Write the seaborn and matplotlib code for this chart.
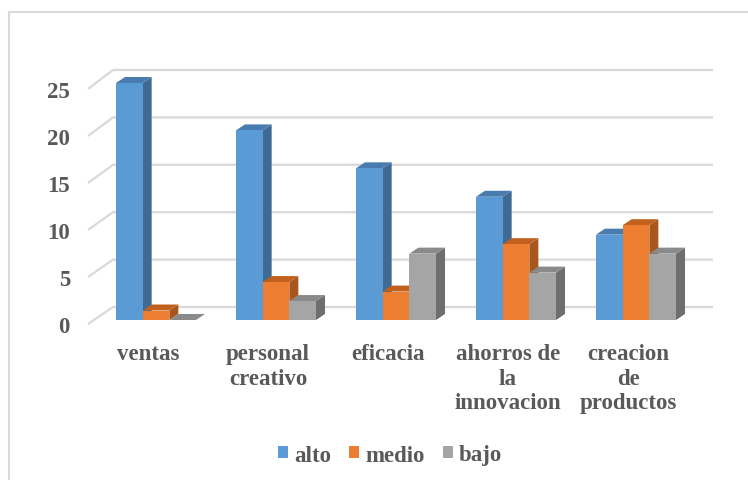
import numpy as np
import pandas as pd
import matplotlib
matplotlib.use("Agg")
import matplotlib.pyplot as plt
from matplotlib.patches import Polygon, Patch
from matplotlib.lines import Line2D
import seaborn as sns

# --- data -------------------------------------------------------------
categorias = ["ventas", "personal\ncreativo", "eficacia",
              "ahorros de\nla\ninnovacion", "creacion\nde\nproductos"]
niveles = ["alto", "medio", "bajo"]
alto = [25, 20, 16, 13, 9]
medio = [1, 4, 3, 8, 10]
bajo = [0, 2, 7, 5, 7]
yticks = [0, 5, 10, 15, 20, 25]

# --- style ------------------------------------------------------------
colores = {"alto": "#5B9BD5", "medio": "#ED7D31", "bajo": "#A5A5A5"}
lados = {"alto": "#3E6A94", "medio": "#A8561C", "bajo": "#6E6E6E"}
techos = {"alto": "#4A7BAE", "medio": "#C2611E", "bajo": "#8A8A8A"}
TXT = "#595959"
GRID = "#D9D9D9"
FS = 16.5

df = pd.DataFrame({
    "categoria": categorias * len(niveles),
    "nivel": np.repeat(niveles, len(categorias)),
    "valor": alto + medio + bajo,
})

sns.set_style("white")
plt.rcParams["font.family"] = ["Liberation Serif", "DejaVu Serif"]
plt.rcParams["font.weight"] = "bold"

W, H = 748, 481
fig = plt.figure(figsize=(W / 100, H / 100), dpi=100)


def rect(left, top, right, bottom):
    return [left / W, 1 - bottom / H, (right - left) / W, (bottom - top) / H]


# front plane carries the tick labels, bar plane carries the columns
front = fig.add_axes(rect(88, 90, 688, 325))
ax = fig.add_axes(rect(96, 84, 696, 321))

sns.barplot(data=df, x="categoria", y="valor", hue="nivel",
            order=categorias, hue_order=niveles, palette=colores,
            saturation=1, width=0.667, linewidth=0, errorbar=None,
            legend=False, ax=ax)
ax.set_xlim(-0.5, len(categorias) - 0.5)
ax.set_ylim(0, 25)
ax.set_axis_off()

front.set_xlim(-0.5, len(categorias) - 0.5)
front.set_ylim(0, 25)
front.set_xticks(range(len(categorias)))
front.set_xticklabels(categorias, linespacing=1.2, ha="center",
                      fontweight="bold")
front.set_yticks(yticks)
front.set_yticklabels([str(t) for t in yticks], fontweight="bold")
front.tick_params(axis="both", length=0, labelsize=FS, labelcolor=TXT)
front.tick_params(axis="y", pad=13)
front.tick_params(axis="x", pad=14)
for s in front.spines.values():
    s.set_visible(False)
front.patch.set_visible(False)
front.grid(False)

to_px = ax.transData.transform
to_data = ax.transData.inverted().transform

# back wall gridlines and the floor/edge diagonals
BACK = np.array([17.0, 13.0])
for v in yticks:
    f = front.transData.transform((-0.5, v))
    a = to_px((-0.5, v)) + BACK
    b = to_px((len(categorias) - 0.5, v)) + BACK
    pts = to_data(np.array([f, a, b]))
    ax.plot(pts[:, 0], pts[:, 1], color=GRID, lw=1.6, zorder=0,
            clip_on=False, solid_capstyle="butt")

# depth faces of every column
DX, DY = 9.0, 6.0
for k, (nivel, cont) in enumerate(zip(niveles, ax.containers)):
    for bar in cont:
        x0 = bar.get_x()
        x1 = x0 + bar.get_width()
        h = bar.get_height()
        bar.set_zorder(3 + 2 * k + 1)
        p10 = to_px((x1, 0))
        p0h = to_px((x0, h))
        p1h = to_px((x1, h))
        d = np.array([DX, DY])
        side = to_data(np.array([p10, p10 + d, p1h + d, p1h]))
        top = to_data(np.array([p0h, p1h, p1h + d, p0h + d]))
        ax.add_patch(Polygon(side, closed=True, facecolor=lados[nivel],
                             edgecolor="none", zorder=3 + 2 * k,
                             clip_on=False))
        ax.add_patch(Polygon(top, closed=True, facecolor=techos[nivel],
                             edgecolor="none", zorder=3 + 2 * k,
                             clip_on=False))

# legend
handles = [Patch(facecolor=colores[n], edgecolor="none") for n in niveles]
fig.legend(handles, niveles, loc="center", ncol=3, frameon=False,
           bbox_to_anchor=(390 / W, 1 - 456 / H),
           prop={"size": FS, "weight": "bold"}, labelcolor=TXT,
           handlelength=0.45, handleheight=0.45, handletextpad=0.25,
           columnspacing=0.8)

# chart area frame
fig.add_artist(Line2D([9 / W, 9 / W], [0, 1 - 13 / H], color=GRID, lw=1.5,
                      transform=fig.transFigure))
fig.add_artist(Line2D([9 / W, 1], [1 - 13 / H, 1 - 13 / H], color=GRID,
                      lw=1.5, transform=fig.transFigure))

fig.savefig("out.png", dpi=100)
